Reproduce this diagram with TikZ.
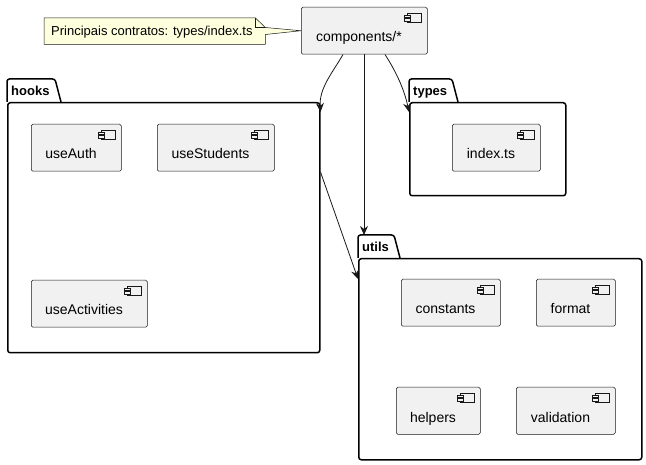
\documentclass[tikz,border=0pt]{standalone}
\usepackage{fontspec}
\setmainfont{Liberation Sans}
\usetikzlibrary{calc,arrows.meta}
\definecolor{compfill}{RGB}{241,241,241}
\definecolor{compdraw}{RGB}{24,24,24}
\definecolor{notefill}{RGB}{254,255,221}
\tikzset{
  compbox/.style={draw=compdraw,fill=compfill,line width=0.5pt,rounded corners=1.5pt,
    minimum height=47pt,inner sep=0pt,anchor=north west},
  compicon/.style={draw=compdraw,fill=compfill,line width=0.5pt},
  complabel/.style={anchor=base,inner sep=0pt,font=\fontsize{14}{16}\selectfont},
  pkgbody/.style={draw=black,line width=1.5pt,rounded corners=2.5pt,inner sep=0pt,anchor=north west},
  pkgtab/.style={draw=black,line width=1.5pt,rounded corners=2.5pt},
  pkglabel/.style={anchor=base west,inner sep=0pt,font=\fontsize{13}{15}\selectfont\bfseries},
  notetext/.style={anchor=base west,inner sep=0pt,font=\fontsize{13}{15}\selectfont},
  notestyle/.style={draw=compdraw,fill=notefill,line width=0.5pt},
  dep/.style={draw=compdraw,line width=0.8pt,-{Stealth[length=9pt,width=8pt,inset=3pt]}}
}
% name, x, y, width, label
\newcommand\ucomp[5]{%
  \node[compbox,minimum width=#4pt] (#1) at (#2,#3) {};
  \draw[compicon] ($(#1.north east)+(-20pt,-6pt)$) rectangle +(14pt,-9pt);
  \draw[compicon] ($(#1.north east)+(-23pt,-8pt)$) rectangle +(6pt,-2.5pt);
  \draw[compicon] ($(#1.north east)+(-23pt,-11.5pt)$) rectangle +(6pt,-2.5pt);
  \node[complabel] (#1-label) at ($(#1.north west)+(#4pt/2-5pt,-35pt)$) {#5};
}
% name, x0, tabtop, tabright, bodytop, width, height, label
\newcommand\upkg[8]{%
  \draw[pkgtab] (#2,#5) -- (#2,#3) -- (#4-6,#3) -- (#4,#5);
  \node[pkgbody,minimum width=#6pt,minimum height=#7pt] (#1) at (#2,#5) {};
  \node[pkglabel] (#1-label) at (#2+4,#3+17) {#8};
}
\begin{document}
\begin{tikzpicture}[x=1pt,y=-1pt]
\useasboundingbox (0,0) rectangle (646,465);

% packages
\upkg{hooks}{7}{79}{61}{102}{312}{250}{hooks}
\upkg{types}{409}{79}{458}{102}{156}{93}{types}
\upkg{utils}{358}{235}{400}{258}{283}{201}{utils}

% components
\ucomp{comp}{301}{7}{126}{components/*}
\ucomp{useAuth}{31}{124}{90}{useAuth}
\ucomp{useStudents}{157}{124}{117}{useStudents}
\ucomp{useActivities}{31}{280}{116}{useActivities}
\ucomp{indexts}{452}{124}{88}{index.ts}
\ucomp{constants}{401}{279}{99}{constants}
\ucomp{format}{536}{279}{79}{format}
\ucomp{helpers}{396}{387}{84}{helpers}
\ucomp{validation}{516}{387}{99}{validation}

% note
\node[inner sep=0pt,minimum width=221pt,minimum height=26pt,anchor=north west] (note) at (44,18) {};
\draw[notestyle] (note.north west) -- ($(note.north east)+(-10pt,0pt)$)
  -- ($(note.north east)+(0pt,-9.5pt)$) -- (comp.west)
  -- ($(note.north east)+(0pt,-16.5pt)$) -- (note.south east) -- (note.south west) -- cycle;
\draw[notestyle,fill=none] ($(note.north east)+(-10pt,0pt)$) -- ($(note.north east)+(-10pt,-9.5pt)$)
  -- ($(note.north east)+(0pt,-9.5pt)$);
\node[notetext] (note-label) at (51,36) {Principais contratos: types/index.ts};

% connectors
\coordinate (utilstab) at (364,235);
\draw[dep] ($(comp.south west)+(42pt,0pt)$) .. controls (333,72) and (319,88) .. ($(hooks.north east)+(0pt,-10pt)$);
\draw[dep] ($(comp.south west)+(63pt,0pt)$) -- (utilstab);
\draw[dep] ($(comp.south west)+(84pt,0pt)$) .. controls (395,70) and (404,88) .. ($(types.north west)+(0pt,-10pt)$);
\draw[dep] ($(hooks.north east)+(0pt,-70pt)$) -- ($(utils.north west)+(0pt,-21pt)$);
\end{tikzpicture}
\end{document}
